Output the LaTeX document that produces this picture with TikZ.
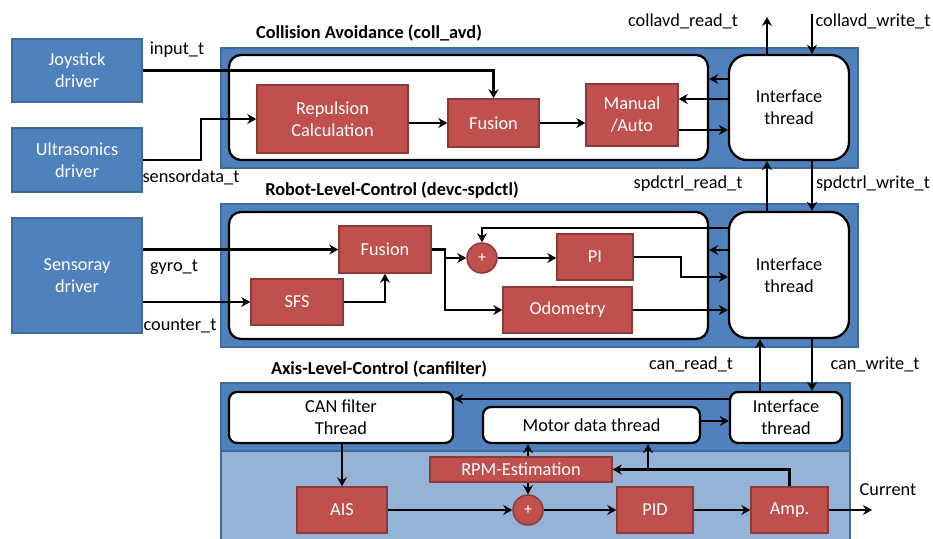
\documentclass[tikz,border=0pt]{standalone}
\usepackage{fontspec}
\setmainfont{Carlito}
\usepackage{tikz}
\usetikzlibrary{arrows.meta,positioning,calc}
\definecolor{PanelBlue}{HTML}{4F81BD}
\definecolor{PanelEdge}{HTML}{3F6A9E}
\definecolor{PanelLight}{HTML}{95B3D7}
\definecolor{BlockRed}{HTML}{C0504D}
\definecolor{BlockEdge}{HTML}{8C3A38}

\begin{document}
\begin{tikzpicture}[x=1pt, y=-1pt,
            font=\fontsize{18.3}{22}\selectfont,
            driver/.style={draw=PanelEdge, line width=1.5pt, fill=PanelBlue, text=white, inner sep=0pt, align=center},
            panel/.style={draw=PanelEdge, line width=1.2pt, fill=PanelBlue, inner sep=0pt},
            thread/.style={draw=black, line width=2.3pt, fill=white, rounded corners=12pt, inner sep=0pt, align=center},
            block/.style={draw=BlockEdge, line width=1.5pt, fill=BlockRed, text=white, inner sep=0pt, align=center},
            adder/.style={circle, draw=BlockEdge, line width=1.5pt, fill=BlockRed, text=white, minimum size=30pt, inner sep=0pt, font=\fontsize{16}{18}\selectfont},
            paneltitle/.style={font=\fontsize{18.3}{22}\selectfont\bfseries},
            arrow/.style={-{Stealth[length=9pt,width=10pt,inset=3pt]}, line width=2.4pt, draw=black},
        ]
        \useasboundingbox (0,0) rectangle (933,538);

        \node[panel, minimum width=637pt, minimum height=120pt] (collpanel) at (539.5,108) {};
        \node[panel, minimum width=637pt, minimum height=143pt] (spdpanel) at (539.5,275.5) {};
        \node[panel, minimum width=629pt, minimum height=160pt] (axpanel) at (535.5,463) {};
        \node[panel, fill=PanelLight, minimum width=629pt, minimum height=92pt] (axlower) at (535.5,497) {};

        \node[thread, minimum width=479pt, minimum height=105pt] (collin) at (468.5,107.5) {};
        \node[thread, rounded corners=18pt, minimum width=120pt, minimum height=105pt] (collif) at (789,107.5) {Interface\\thread};
        \node[thread, minimum width=479pt, minimum height=127pt] (spdin) at (468.5,275.5) {};
        \node[thread, rounded corners=18pt, minimum width=120pt, minimum height=126pt] (spdif) at (789,275) {Interface\\thread};
        \node[thread, rounded corners=8pt, minimum width=112pt, minimum height=51pt] (axif) at (786,417.5) {Interface\\thread};
        \node[thread, rounded corners=8pt, minimum width=224pt, minimum height=51pt] (canf) at (341,417.5) {CAN filter\\Thread};
        \node[thread, rounded corners=8pt, minimum width=217pt, minimum height=36pt] (motor) at (591.5,425) {Motor data thread};

        \node[driver, minimum width=130pt, minimum height=63pt] (joy) at (77,70.5) {Joystick\\driver};
        \node[driver, minimum width=130pt, minimum height=64pt] (ultra) at (77,160) {Ultrasonics\\driver};
        \node[driver, minimum width=130pt, minimum height=115pt] (sensoray) at (77,275.5) {Sensoray\\driver};

        \node[block, minimum width=151pt, minimum height=68pt] (repuls) at (332.5,119) {Repulsion\\Calculation};
        \node[block, minimum width=91pt, minimum height=48pt] (fusionca) at (493.5,123) {Fusion};
        \node[block, minimum width=92pt, minimum height=62pt] (manual) at (632,115) {Manual\\/Auto};

        \node[block, minimum width=92pt, minimum height=47pt] (fusionrc) at (385,249.5) {Fusion};
        \node[block, minimum width=92pt, minimum height=46pt] (sfs) at (297,302) {SFS};
        \node[adder] (sumrc) at (482,258) {+};
        \node[block, minimum width=76pt, minimum height=46pt] (pi) at (595,257) {PI};
        \node[block, minimum width=129pt, minimum height=46pt] (odo) at (567.5,310) {Odometry};

        \node[block, minimum width=182pt, minimum height=25pt] (rpm) at (521,469.5) {RPM-Estimation};
        \node[block, minimum width=90pt, minimum height=46pt] (ais) at (342,510) {AIS};
        \node[adder] (sumax) at (528,510) {+};
        \node[block, minimum width=76pt, minimum height=46pt] (pid) at (655,510) {PID};
        \node[block, minimum width=77pt, minimum height=46pt] (amp) at (789.5,510) {Amp.};

        \node[paneltitle] (colltitle) at (369,33) {Collision Avoidance (coll\_avd)};
        \node[paneltitle] (spdtitle) at (392,190) {Robot-Level-Control (devc-spdctl)};
        \node[paneltitle] (axtitle) at (379,369) {Axis-Level-Control (canfilter)};

        \node (inputlbl) at (177,50) {input\_t};
        \node (sensorlbl) at (191,177) {sensordata\_t};
        \node (gyrolbl) at (174,267) {gyro\_t};
        \node (counterlbl) at (180,326) {counter\_t};
        \node (collrdlbl) at (683,21) {collavd\_read\_t};
        \node (collwrlbl) at (873,21) {collavd\_write\_t};
        \node (spdrdlbl) at (688,184) {spdctrl\_read\_t};
        \node (spdwrlbl) at (873,184) {spdctrl\_write\_t};
        \node (canrdlbl) at (691,364) {can\_read\_t};
        \node (canwrlbl) at (875,364) {can\_write\_t};
        \node (currentlbl) at (888,490) {Current};

        \coordinate (collrd) at (767,17);
        \coordinate (collwr) at (812,14);
        \coordinate (canrd) at (760,0);
        \coordinate (current) at (872,510);

        \draw[arrow] (joy.east) -| (fusionca.north);
        \draw[arrow] (ultra.east) -- ++(58,0) |- (repuls.west);
        \draw[arrow] (repuls.east |- fusionca.west) -- (fusionca.west);
        \draw[arrow] (fusionca.east) -- (fusionca.east -| manual.west);
        \draw[arrow] (collif.west |- 0,79) -- (collin.east |- 0,79);
        \draw[arrow] (collif.west |- 0,99) -- (manual.east |- 0,99);
        \draw[arrow] (manual.east |- 0,130) -- (collif.west |- 0,130);
        \draw[arrow] (collif.north -| collrd) -- (collrd);
        \draw[arrow] (collwr) -- (collif.north -| collwr);

        \draw[arrow] (spdif.north -| collrd) -- (collif.south -| collrd);
        \draw[arrow] (collif.south -| collwr) -- (spdif.north -| collwr);
        \draw[arrow] (sensoray.east |- fusionrc.west) -- (fusionrc.west);
        \draw[arrow] (sensoray.east |- sfs.west) -- (sfs.west);
        \draw[arrow] (sfs.east) -| (fusionrc.south);
        \draw[arrow] (fusionrc.east) -- (fusionrc.east -| 445,0) |- (sumrc.west);
        \draw[arrow] (fusionrc.east -| 445,0) |- (odo.west);
        \draw[arrow] (sumrc.east) -- (sumrc.east -| pi.west);
        \draw[arrow] (spdif.west |- 0,228) -| (sumrc.north);
        \draw[arrow] (spdif.west |- 0,250) -- (spdin.east |- 0,250);
        \draw[arrow] (pi.east) -- (pi.east -| 681,0) |- (spdif.west |- 0,277);
        \draw[arrow] (odo.east) -- (odo.east -| spdif.west);

        \draw[arrow] (axif.north -| canrd) -- (spdif.south -| canrd);
        \draw[arrow] (spdif.south -| collwr) -- (axif.north -| collwr);
        \draw[arrow] (axif.west |- 0,399) -- (canf.east |- 0,399);
        \draw[arrow] (motor.east |- 0,421) -- (axif.west |- 0,421);
        \draw[arrow] (canf.south -| ais) -- (ais.north);
        \draw[arrow] (ais.east) -- (sumax.west);
        \draw[arrow] (sumax.east) -- (pid.west);
        \draw[arrow] (pid.east) -- (amp.west);
        \draw[arrow] (amp.east) -- (current);
        \draw[arrow] (amp.north) |- (rpm.east);
        \draw[arrow] (rpm.east -| 648,0) -- (motor.south -| 648,0);
        \draw[arrow] (rpm.north -| sumax) -- (motor.south -| sumax);
        \draw[arrow] (rpm.south -| sumax) -- (sumax.north);
    \end{tikzpicture}
\end{document}
